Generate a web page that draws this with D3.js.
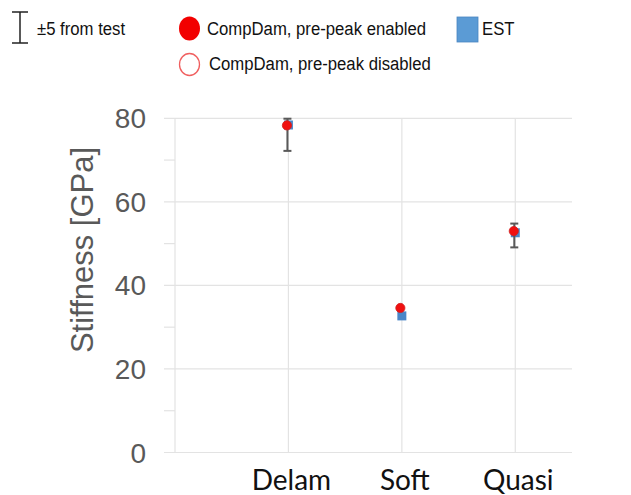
<!DOCTYPE html>
<html>
<head>
<meta charset="utf-8">
<script src="https://cdn.jsdelivr.net/npm/d3@7"></script>
<style>
  html, body { margin: 0; padding: 0; background: #fff; }
  svg { display: block; }
</style>
</head>
<body>
<svg id="chart" width="631" height="495"></svg>
<script>
const categories = ["Delam", "Soft", "Quasi"];
const compDamEnabled = [78.3, 34.6, 53.0];
const estValues = [78.4, 32.7, 52.6];
const testLow = [72.2, null, 49.1];
const testHigh = [79.9, null, 54.8];
const majorTicks = [0, 20, 40, 60, 80];
const minorTicks = [10, 30, 50, 70];
const yLabel = "Stiffness [GPa]";
const legendItems = ["±5 from test", "CompDam, pre-peak enabled", "CompDam, pre-peak disabled", "EST"];

const svg = d3.select("#chart");
const x = d3.scaleLinear().domain([0, 3.5]).range([175, 572]);
const y = d3.scaleLinear().domain([0, 80]).range([452.5, 118.3]);
const grid = "#e3e3e3";

// horizontal gridlines + ticks
svg.append("g").selectAll("line").data(majorTicks).join("line")
  .attr("x1", x(0) - 11).attr("x2", x(3.5))
  .attr("y1", d => y(d)).attr("y2", d => y(d))
  .attr("stroke", grid).attr("stroke-width", 1.2);
svg.append("g").selectAll("line").data(minorTicks).join("line")
  .attr("x1", x(0) - 11).attr("x2", x(0))
  .attr("y1", d => y(d)).attr("y2", d => y(d))
  .attr("stroke", grid).attr("stroke-width", 1.2);
// vertical gridlines
svg.append("g").selectAll("line").data([0, 1, 2, 3]).join("line")
  .attr("x1", d => x(d)).attr("x2", d => x(d))
  .attr("y1", y(80)).attr("y2", y(0))
  .attr("stroke", grid).attr("stroke-width", 1.2);

// y tick labels
svg.append("g").selectAll("text").data(majorTicks).join("text")
  .attr("x", 146).attr("y", d => y(d))
  .attr("dy", "0.36em")
  .attr("text-anchor", "end")
  .attr("font-family", "Liberation Sans, Arial, sans-serif")
  .attr("font-size", 28).attr("fill", "#595959")
  .text(d => d);

// y label
svg.append("text")
  .attr("transform", `translate(93, ${250}) rotate(-90)`)
  .attr("text-anchor", "middle")
  .attr("font-family", "Liberation Sans, Arial, sans-serif")
  .attr("font-size", 31).attr("fill", "#595959")
  .text(yLabel);

// x labels
svg.append("g").selectAll("text").data(categories).join("text")
  .attr("x", (d, i) => x(i + 1) + 3).attr("y", 490)
  .attr("text-anchor", "middle")
  .attr("font-family", "Lato, Carlito, Calibri, sans-serif")
  .attr("font-size", 28).attr("fill", "#111")
  .text(d => d);

// EST squares
svg.append("g").selectAll("rect").data(estValues).join("rect")
  .attr("x", (d, i) => x(i + 1) - 4.5).attr("y", d => y(d) - 4.5)
  .attr("width", 9).attr("height", 9)
  .attr("fill", "#4a86c8");

// error bars
const eb = categories.map((c, i) => ({i, lo: testLow[i], hi: testHigh[i]})).filter(d => d.lo != null);
const ebg = svg.append("g").attr("stroke", "#595959").attr("stroke-width", 2);
ebg.selectAll(".v").data(eb).join("line")
  .attr("x1", d => x(d.i + 1) - 1).attr("x2", d => x(d.i + 1) - 1)
  .attr("y1", d => y(d.hi)).attr("y2", d => y(d.lo));
ebg.selectAll(".t").data(eb).join("line")
  .attr("x1", d => x(d.i + 1) - 5).attr("x2", d => x(d.i + 1) + 3)
  .attr("y1", d => y(d.hi)).attr("y2", d => y(d.hi));
ebg.selectAll(".b").data(eb).join("line")
  .attr("x1", d => x(d.i + 1) - 5).attr("x2", d => x(d.i + 1) + 3)
  .attr("y1", d => y(d.lo)).attr("y2", d => y(d.lo));

// CompDam enabled circles
svg.append("g").selectAll("circle").data(compDamEnabled).join("circle")
  .attr("cx", (d, i) => x(i + 1) - 1.5).attr("cy", d => y(d))
  .attr("r", 4.6).attr("fill", "#f01010")
  .attr("stroke", "#d02020").attr("stroke-width", 0.8);

// legend
const lf = "Liberation Sans, Arial, sans-serif";
const lg = svg.append("g");
function ltext(xp, yp, t) {
  lg.append("text").attr("transform", `translate(${xp},${yp}) scale(0.88,1)`)
    .attr("font-family", lf).attr("font-size", 19).attr("fill", "#111").text(t);
}
lg.append("line").attr("x1", 20).attr("x2", 20).attr("y1", 12).attr("y2", 43).attr("stroke", "#222").attr("stroke-width", 1.5);
lg.append("line").attr("x1", 12).attr("x2", 28).attr("y1", 12).attr("y2", 12).attr("stroke", "#222").attr("stroke-width", 1.5);
lg.append("line").attr("x1", 12).attr("x2", 28).attr("y1", 43).attr("y2", 43).attr("stroke", "#222").attr("stroke-width", 1.5);
ltext(37, 35, legendItems[0]);

lg.append("ellipse").attr("cx", 189.5).attr("cy", 28.5).attr("rx", 10.5).attr("ry", 12).attr("fill", "#f20000");
ltext(207, 35, legendItems[1]);
lg.append("ellipse").attr("cx", 189.5).attr("cy", 64.5).attr("rx", 10).attr("ry", 11).attr("fill", "none").attr("stroke", "#f06060").attr("stroke-width", 1.3);
ltext(209, 70, legendItems[2]);

lg.append("rect").attr("x", 457).attr("y", 17).attr("width", 21).attr("height", 25).attr("fill", "#5b9bd5").attr("stroke", "#4a86c0").attr("stroke-width", 0.8);
ltext(482, 35, legendItems[3]);
</script>
</body>
</html>
